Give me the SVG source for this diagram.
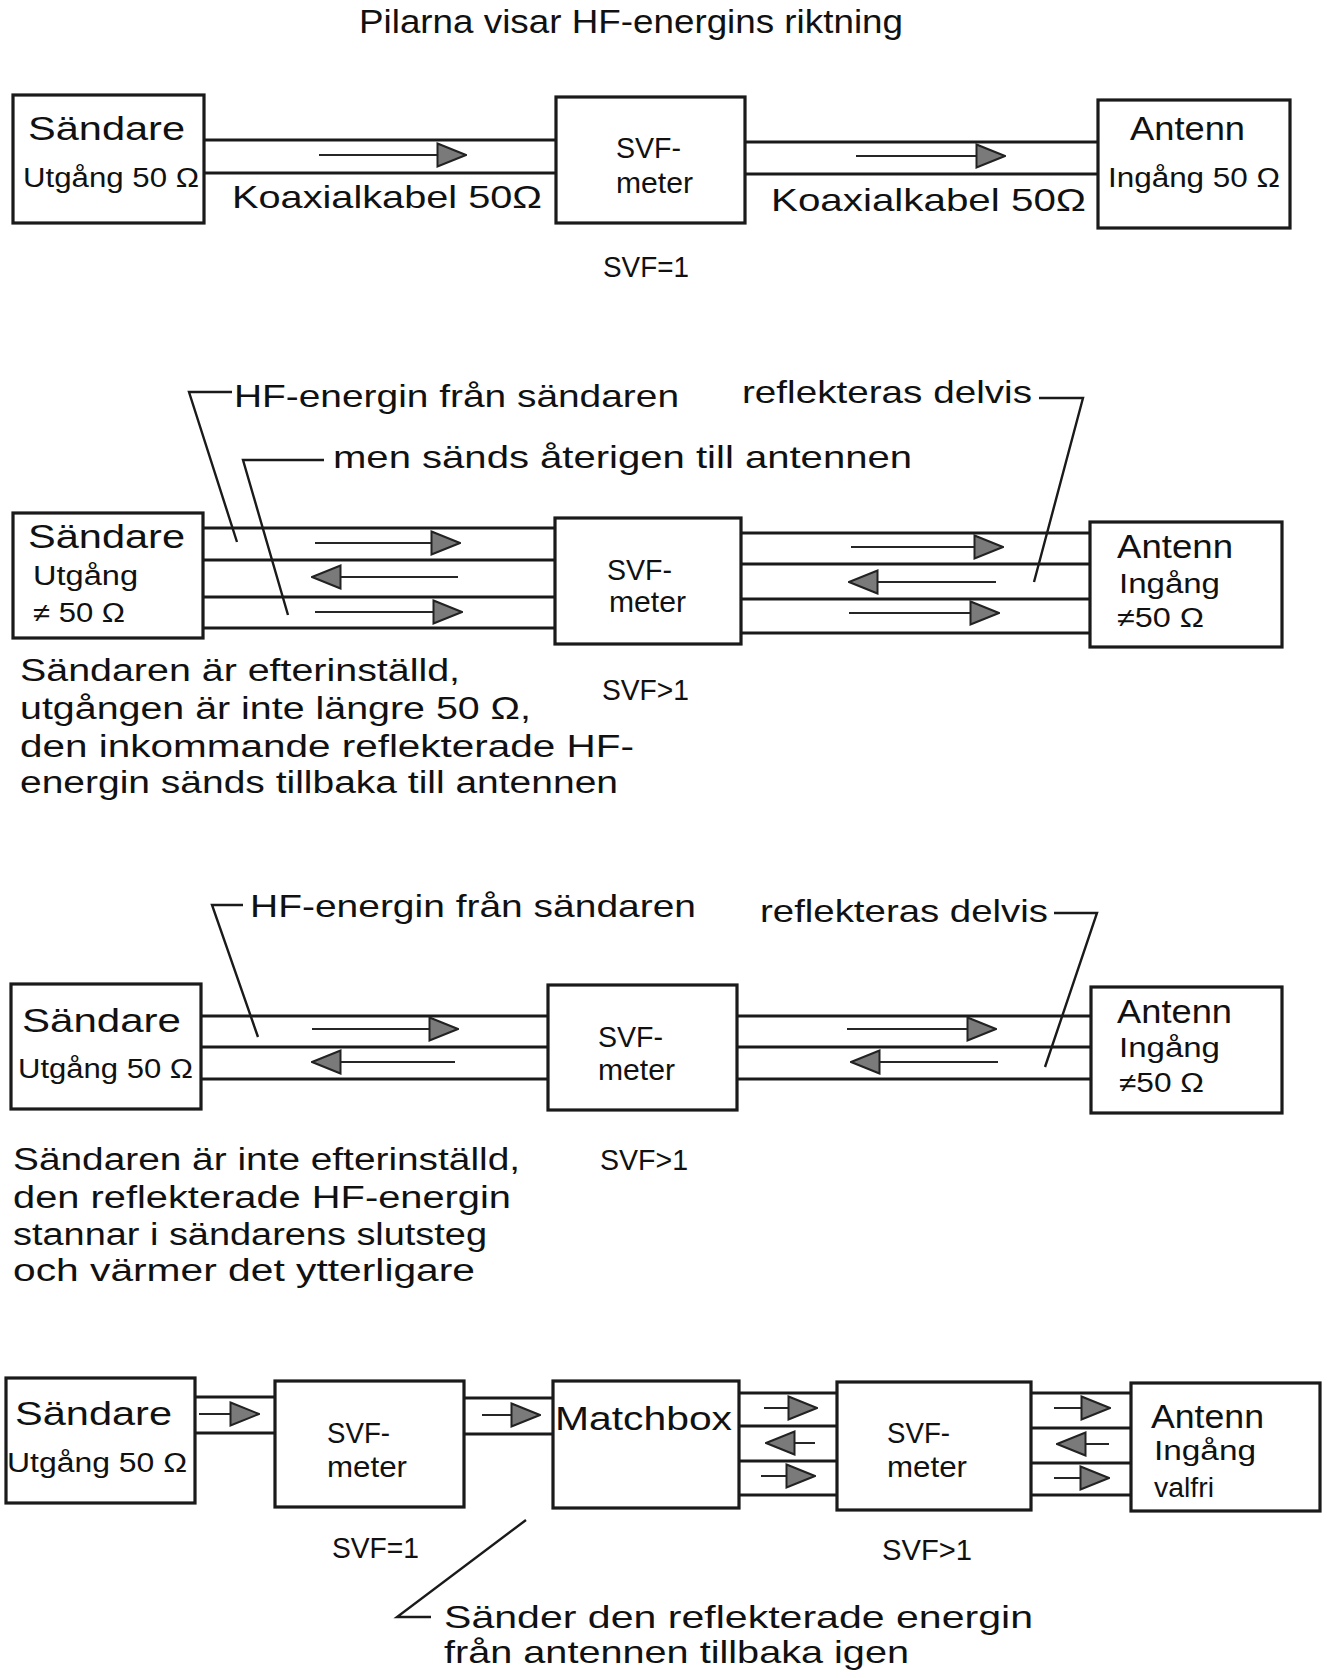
<svg xmlns="http://www.w3.org/2000/svg" width="1337" height="1678" viewBox="0 0 1337 1678">
<style>
  .box { fill: #fff; stroke: #1a1a1a; stroke-width: 3.2; }
  .cable { stroke: #1a1a1a; stroke-width: 3; fill: none; }
  .shaft { stroke: #262626; stroke-width: 2.2; fill: none; }
  .lead { stroke: #1a1a1a; stroke-width: 2.4; fill: none; stroke-linejoin: miter; }
  text { font-family: "Liberation Sans", Arial, sans-serif; fill: #111; }
  .t1 { font-size: 34px; }
  .t2 { font-size: 27px; }
  .tm { font-size: 29px; }
  .lab { font-size: 32px; }
  .par { font-size: 31px; }
</style>
<defs>
  <marker id="ah" markerUnits="userSpaceOnUse" markerWidth="31" markerHeight="26" viewBox="0 0 31 26" refX="30" refY="13" orient="auto">
    <polygon points="1.5,1.5 30,13 1.5,24.5" fill="#7a7a7a" stroke="#222" stroke-width="2"/>
  </marker>
</defs>
<rect width="1337" height="1678" fill="#fff"/>

<text id="title" x="359" y="33" font-size="34" textLength="544" lengthAdjust="spacingAndGlyphs">Pilarna visar HF-energins riktning</text>

<!-- Section 1 -->
<g id="s1-sender">
  <rect class="box" x="13" y="95" width="191" height="128"/>
  <text class="t1" x="28" y="140" textLength="157" lengthAdjust="spacingAndGlyphs">Sändare</text>
  <text class="t2" x="23" y="187" textLength="176" lengthAdjust="spacingAndGlyphs">Utgång 50 Ω</text>
</g>
<g id="s1-svf">
  <rect class="box" x="556" y="97" width="189" height="126"/>
  <text class="tm" x="616" y="158" textLength="65" lengthAdjust="spacingAndGlyphs">SVF-</text>
  <text class="tm" x="616" y="193" textLength="77" lengthAdjust="spacingAndGlyphs">meter</text>
</g>
<g id="s1-antenna">
  <rect class="box" x="1098" y="100" width="192" height="128"/>
  <text class="t1" x="1130" y="140" textLength="115" lengthAdjust="spacingAndGlyphs">Antenn</text>
  <text class="t2" x="1108" y="187" textLength="172" lengthAdjust="spacingAndGlyphs">Ingång 50 Ω</text>
</g>

<!-- Section 2 -->
<g id="s2-sender">
  <rect class="box" x="13" y="513" width="190" height="125"/>
  <text class="t1" x="28" y="548" textLength="157" lengthAdjust="spacingAndGlyphs">Sändare</text>
  <text class="t2" x="33" y="585" textLength="105" lengthAdjust="spacingAndGlyphs">Utgång</text>
  <text class="t2" x="33" y="622" textLength="92" lengthAdjust="spacingAndGlyphs">≠ 50 Ω</text>
</g>
<g id="s2-svf">
  <rect class="box" x="555" y="518" width="186" height="126"/>
  <text class="tm" x="607" y="580" textLength="65" lengthAdjust="spacingAndGlyphs">SVF-</text>
  <text class="tm" x="609" y="612" textLength="77" lengthAdjust="spacingAndGlyphs">meter</text>
</g>
<g id="s2-antenna">
  <rect class="box" x="1090" y="522" width="192" height="125"/>
  <text class="t1" x="1117" y="558" textLength="116" lengthAdjust="spacingAndGlyphs">Antenn</text>
  <text class="t2" x="1119" y="593" textLength="101" lengthAdjust="spacingAndGlyphs">Ingång</text>
  <text class="t2" x="1117" y="627" textLength="87" lengthAdjust="spacingAndGlyphs">≠50 Ω</text>
</g>

<!-- Section 3 -->
<g id="s3-sender">
  <rect class="box" x="11" y="984" width="190" height="125"/>
  <text class="t1" x="22" y="1032" textLength="159" lengthAdjust="spacingAndGlyphs">Sändare</text>
  <text class="t2" x="18" y="1078" textLength="175" lengthAdjust="spacingAndGlyphs">Utgång 50 Ω</text>
</g>
<g id="s3-svf">
  <rect class="box" x="548" y="985" width="189" height="125"/>
  <text class="tm" x="598" y="1047" textLength="65" lengthAdjust="spacingAndGlyphs">SVF-</text>
  <text class="tm" x="598" y="1080" textLength="77" lengthAdjust="spacingAndGlyphs">meter</text>
</g>
<g id="s3-antenna">
  <rect class="box" x="1091" y="987" width="191" height="126"/>
  <text class="t1" x="1117" y="1023" textLength="115" lengthAdjust="spacingAndGlyphs">Antenn</text>
  <text class="t2" x="1119" y="1057" textLength="101" lengthAdjust="spacingAndGlyphs">Ingång</text>
  <text class="t2" x="1119" y="1092" textLength="85" lengthAdjust="spacingAndGlyphs">≠50 Ω</text>
</g>

<!-- Section 4 -->
<g id="s4-sender">
  <rect class="box" x="6" y="1378" width="189" height="125"/>
  <text class="t1" x="15" y="1425" textLength="157" lengthAdjust="spacingAndGlyphs">Sändare</text>
  <text class="t2" x="7" y="1472" textLength="180" lengthAdjust="spacingAndGlyphs">Utgång 50 Ω</text>
</g>
<g id="s4-svf1">
  <rect class="box" x="275" y="1381" width="189" height="126"/>
  <text class="tm" x="327" y="1443" textLength="63" lengthAdjust="spacingAndGlyphs">SVF-</text>
  <text class="tm" x="327" y="1477" textLength="80" lengthAdjust="spacingAndGlyphs">meter</text>
</g>
<g id="s4-matchbox">
  <rect class="box" x="553" y="1381" width="186" height="127"/>
  <text class="t1" x="555" y="1430" textLength="177" lengthAdjust="spacingAndGlyphs">Matchbox</text>
</g>
<g id="s4-svf2">
  <rect class="box" x="837" y="1382" width="194" height="128"/>
  <text class="tm" x="887" y="1443" textLength="63" lengthAdjust="spacingAndGlyphs">SVF-</text>
  <text class="tm" x="887" y="1477" textLength="80" lengthAdjust="spacingAndGlyphs">meter</text>
</g>
<g id="s4-antenna">
  <rect class="box" x="1131" y="1383" width="189" height="128"/>
  <text class="t1" x="1151" y="1428" textLength="113" lengthAdjust="spacingAndGlyphs">Antenn</text>
  <text class="t2" x="1154" y="1460" textLength="102" lengthAdjust="spacingAndGlyphs">Ingång</text>
  <text class="t2" x="1154" y="1497" textLength="60" lengthAdjust="spacingAndGlyphs">valfri</text>
</g>

<g id="connectors">
  <!-- Section 1 cables -->
  <line class="cable" x1="204" y1="140" x2="556" y2="140"/>
  <line class="cable" x1="204" y1="173" x2="556" y2="173"/>
  <line class="shaft" x1="319" y1="155" x2="466" y2="155" marker-end="url(#ah)"/>
  <line class="cable" x1="745" y1="142" x2="1098" y2="142"/>
  <line class="cable" x1="745" y1="174" x2="1098" y2="174"/>
  <line class="shaft" x1="856" y1="156" x2="1005" y2="156" marker-end="url(#ah)"/>

  <!-- Section 2 cables -->
  <line class="cable" x1="203" y1="528" x2="555" y2="528"/>
  <line class="cable" x1="203" y1="560" x2="555" y2="560"/>
  <line class="cable" x1="203" y1="597" x2="555" y2="597"/>
  <line class="cable" x1="203" y1="628" x2="555" y2="628"/>
  <line class="shaft" x1="315" y1="543" x2="460" y2="543" marker-end="url(#ah)"/>
  <line class="shaft" x1="458" y1="577" x2="312" y2="577" marker-end="url(#ah)"/>
  <line class="shaft" x1="315" y1="612" x2="462" y2="612" marker-end="url(#ah)"/>
  <line class="cable" x1="741" y1="533" x2="1090" y2="533"/>
  <line class="cable" x1="741" y1="564" x2="1090" y2="564"/>
  <line class="cable" x1="741" y1="599" x2="1090" y2="599"/>
  <line class="cable" x1="741" y1="633" x2="1090" y2="633"/>
  <line class="shaft" x1="851" y1="547" x2="1003" y2="547" marker-end="url(#ah)"/>
  <line class="shaft" x1="996" y1="582" x2="849" y2="582" marker-end="url(#ah)"/>
  <line class="shaft" x1="849" y1="613" x2="999" y2="613" marker-end="url(#ah)"/>

  <!-- Section 3 cables -->
  <line class="cable" x1="201" y1="1016" x2="548" y2="1016"/>
  <line class="cable" x1="201" y1="1047" x2="548" y2="1047"/>
  <line class="cable" x1="201" y1="1079" x2="548" y2="1079"/>
  <line class="shaft" x1="312" y1="1029" x2="458" y2="1029" marker-end="url(#ah)"/>
  <line class="shaft" x1="455" y1="1062" x2="312" y2="1062" marker-end="url(#ah)"/>
  <line class="cable" x1="737" y1="1016" x2="1091" y2="1016"/>
  <line class="cable" x1="737" y1="1047" x2="1091" y2="1047"/>
  <line class="cable" x1="737" y1="1079" x2="1091" y2="1079"/>
  <line class="shaft" x1="847" y1="1029" x2="996" y2="1029" marker-end="url(#ah)"/>
  <line class="shaft" x1="998" y1="1062" x2="851" y2="1062" marker-end="url(#ah)"/>

  <!-- Section 4 cables -->
  <line class="cable" x1="195" y1="1397" x2="275" y2="1397"/>
  <line class="cable" x1="195" y1="1433" x2="275" y2="1433"/>
  <line class="shaft" x1="199" y1="1414" x2="259" y2="1414" marker-end="url(#ah)"/>
  <line class="cable" x1="464" y1="1398" x2="553" y2="1398"/>
  <line class="cable" x1="464" y1="1434" x2="553" y2="1434"/>
  <line class="shaft" x1="482" y1="1415" x2="540" y2="1415" marker-end="url(#ah)"/>
  <line class="cable" x1="739" y1="1393" x2="837" y2="1393"/>
  <line class="cable" x1="739" y1="1426" x2="837" y2="1426"/>
  <line class="cable" x1="739" y1="1461" x2="837" y2="1461"/>
  <line class="cable" x1="739" y1="1495" x2="837" y2="1495"/>
  <line class="shaft" x1="764" y1="1408" x2="817" y2="1408" marker-end="url(#ah)"/>
  <line class="shaft" x1="815" y1="1443" x2="766" y2="1443" marker-end="url(#ah)"/>
  <line class="shaft" x1="761" y1="1476" x2="815" y2="1476" marker-end="url(#ah)"/>
  <line class="cable" x1="1031" y1="1393" x2="1131" y2="1393"/>
  <line class="cable" x1="1031" y1="1428" x2="1131" y2="1428"/>
  <line class="cable" x1="1031" y1="1463" x2="1131" y2="1463"/>
  <line class="cable" x1="1031" y1="1495" x2="1131" y2="1495"/>
  <line class="shaft" x1="1054" y1="1408" x2="1110" y2="1408" marker-end="url(#ah)"/>
  <line class="shaft" x1="1109" y1="1444" x2="1057" y2="1444" marker-end="url(#ah)"/>
  <line class="shaft" x1="1054" y1="1478" x2="1109" y2="1478" marker-end="url(#ah)"/>

  <!-- Leader lines -->
  <polyline class="lead" points="232,392 189,392 237,542"/>
  <polyline class="lead" points="324,460 243,460 288,615"/>
  <polyline class="lead" points="1039,398 1083,398 1034,582"/>
  <polyline class="lead" points="243,905 212,905 258,1037"/>
  <polyline class="lead" points="1054,913 1097,913 1045,1067"/>
  <polyline class="lead" points="526,1520 397,1617 431,1617"/>
</g>

<g id="labels">
  <text class="lab" x="234" y="407" textLength="445" lengthAdjust="spacingAndGlyphs">HF-energin från sändaren</text>
  <text class="lab" x="333" y="468" textLength="579" lengthAdjust="spacingAndGlyphs">men sänds återigen till antennen</text>
  <text class="lab" x="742" y="403" textLength="290" lengthAdjust="spacingAndGlyphs">reflekteras delvis</text>
  <text class="lab" x="250" y="917" textLength="446" lengthAdjust="spacingAndGlyphs">HF-energin från sändaren</text>
  <text class="lab" x="760" y="922" textLength="288" lengthAdjust="spacingAndGlyphs">reflekteras delvis</text>

  <text class="lab" x="232" y="208" textLength="310" lengthAdjust="spacingAndGlyphs">Koaxialkabel  50Ω</text>
  <text class="lab" x="771" y="211" textLength="315" lengthAdjust="spacingAndGlyphs">Koaxialkabel  50Ω</text>

  <text class="tm" x="603" y="277" textLength="86" lengthAdjust="spacingAndGlyphs">SVF=1</text>
  <text class="tm" x="602" y="700" textLength="87" lengthAdjust="spacingAndGlyphs">SVF&gt;1</text>
  <text class="tm" x="600" y="1170" textLength="88" lengthAdjust="spacingAndGlyphs">SVF&gt;1</text>
  <text class="tm" x="332" y="1558" textLength="87" lengthAdjust="spacingAndGlyphs">SVF=1</text>
  <text class="tm" x="882" y="1560" textLength="90" lengthAdjust="spacingAndGlyphs">SVF&gt;1</text>

  <text class="par" x="20" y="681" textLength="440" lengthAdjust="spacingAndGlyphs">Sändaren är efterinställd,</text>
  <text class="par" x="20" y="719" textLength="511" lengthAdjust="spacingAndGlyphs">utgången är inte längre 50 Ω,</text>
  <text class="par" x="20" y="757" textLength="614" lengthAdjust="spacingAndGlyphs">den inkommande reflekterade HF-</text>
  <text class="par" x="20" y="793" textLength="598" lengthAdjust="spacingAndGlyphs">energin sänds tillbaka till antennen</text>

  <text class="par" x="13" y="1170" textLength="507" lengthAdjust="spacingAndGlyphs">Sändaren är inte efterinställd,</text>
  <text class="par" x="13" y="1208" textLength="498" lengthAdjust="spacingAndGlyphs">den reflekterade HF-energin</text>
  <text class="par" x="13" y="1245" textLength="474" lengthAdjust="spacingAndGlyphs">stannar i sändarens slutsteg</text>
  <text class="par" x="13" y="1281" textLength="462" lengthAdjust="spacingAndGlyphs">och värmer det ytterligare</text>

  <text class="lab" x="444" y="1628" textLength="589" lengthAdjust="spacingAndGlyphs">Sänder den reflekterade energin</text>
  <text class="lab" x="444" y="1663" textLength="465" lengthAdjust="spacingAndGlyphs">från antennen tillbaka igen</text>
</g>
</svg>
